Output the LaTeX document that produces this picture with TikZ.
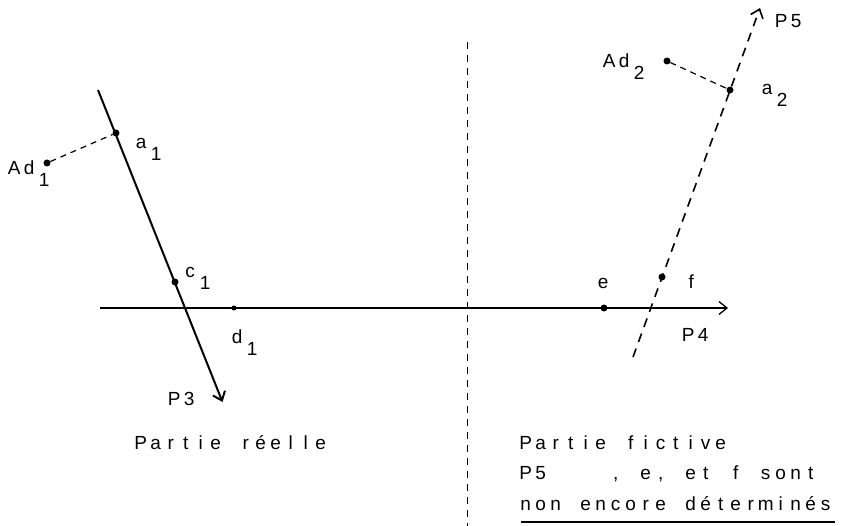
\documentclass[tikz,border=0pt]{standalone}
\usepackage{fontspec}
\setmainfont{Liberation Sans}
\usetikzlibrary{arrows.meta}
\newlength\monopitch
\setlength\monopitch{15pt}
\makeatletter
\def\mono@bar{|}
\newcommand\mono[1]{\@tfor\mono@c:=#1\do{\makebox[\monopitch][c]{\ifx\mono@c\mono@bar\else\mono@c\fi}}}
\newcommand\lab[2]{\mono{#1}\raisebox{-12pt}{\mono{#2}}}
\makeatother
\begin{document}
\begin{tikzpicture}[x=1pt,y=-1pt,
  dot/.style={circle,fill,inner sep=0pt,minimum size=7pt},
  txt/.style={anchor=base west,inner sep=0pt,font=\fontsize{19}{21}\selectfont},
  tip/.style={-{Straight Barb[length=8pt,width=13pt]}},
  realline/.style={line width=2pt,tip},
  axisline/.style={line width=1.3pt,tip},
  fictline/.style={line width=1.6pt,dash pattern=on 9pt off 7pt,tip},
  linkline/.style={line width=1.2pt,dash pattern=on 6pt off 5pt},
  sepline/.style={line width=1pt,dash pattern=on 7pt off 6pt}]
\useasboundingbox (0,0) rectangle (858,526);
% separator
\coordinate (vt) at (467,42);
\coordinate (vb) at (467,526);
\draw[sepline] (vt) -- (vb);
% P4 axis
\coordinate (p4s) at (100,308);
\coordinate (p4e) at (728,308);
\draw[axisline] (p4s) -- (p4e);
% P3 line
\coordinate (p3s) at (98,90);
\coordinate (p3e) at (222.5,402);
\draw[realline] (p3s) -- (p3e);
% P5 line
\coordinate (p5s) at (633,357);
\coordinate (p5e) at (760,8);
\draw[fictline] (p5s) -- (p5e);
% points
\node[dot] (a1) at (116,133) {};
\node[dot] (c1) at (175,282) {};
\node[dot] (Ad1) at (47,163) {};
\node[dot,minimum size=5pt] (d1) at (234,308) {};
\node[dot] (e) at (604,308) {};
\node[dot] (f) at (662,277) {};
\node[dot] (a2) at (730,90) {};
\node[dot] (Ad2) at (667,61) {};
\draw[linkline] (Ad1) -- (a1);
\draw[linkline] (Ad2) -- (a2);
% labels
\node[txt] (la1) at (133.5,149) {\lab{a}{1}};
\node[txt] (lAd1) at (6.5,175) {\lab{Ad}{1}};
\node[txt] (lc1) at (182.5,277) {\lab{c}{1}};
\node[txt] (ld1) at (229.5,343) {\lab{d}{1}};
\node[txt] (le) at (595.5,288) {\mono{e}};
\node[txt] (lf) at (683.5,288) {\mono{f}};
\node[txt] (lP4) at (680.5,341) {\mono{P4}};
\node[txt] (lP3) at (166.5,405) {\mono{P3}};
\node[txt] (lP5) at (773.5,28) {\mono{P5}};
\node[txt] (lAd2) at (601.5,68) {\lab{Ad}{2}};
\node[txt] (la2) at (759.5,95) {\lab{a}{2}};
% captions
\node[txt] (reel) at (133,449) {\mono{Partie|réelle}};
\node[txt] (fict) at (518,449) {\mono{Partie|fictive}};
\node[txt] (sont) at (518,479) {\mono{P5||||,|e,|et|f|sont}};
\node[txt] (nond) at (518,510) {\mono{non|encore|déterminés}};
\coordinate (ul1) at (521,522);
\coordinate (ul2) at (835,522);
\draw[line width=1.2pt] (ul1) -- (ul2);
\end{tikzpicture}
\end{document}
